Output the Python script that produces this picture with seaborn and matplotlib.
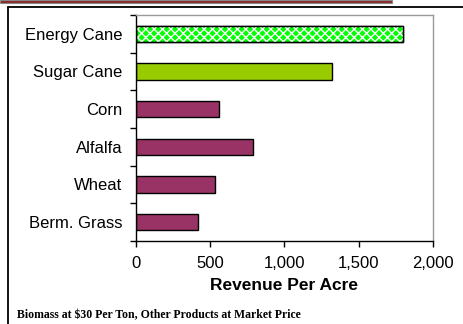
import numpy as np
import pandas as pd
import matplotlib
matplotlib.use('Agg')
import matplotlib.pyplot as plt
import seaborn as sns
from matplotlib.patches import Rectangle
from matplotlib.lines import Line2D
from matplotlib.ticker import FuncFormatter, FixedLocator

# data
crops = ['Energy Cane', 'Sugar Cane', 'Corn', 'Alfalfa', 'Wheat', 'Berm. Grass']
revenue = [1800, 1320, 560, 790, 535, 420]
bar_colors = ['#00ff00', '#99cc00', '#993366', '#993366', '#993366', '#993366']
xticks = [0, 500, 1000, 1500, 2000]

df = pd.DataFrame({'crop': crops, 'revenue': revenue})

sns.set_style('white')
plt.rcParams['font.family'] = ['Liberation Sans', 'DejaVu Sans']
plt.rcParams['text.color'] = 'black'
plt.rcParams['axes.labelcolor'] = 'black'
plt.rcParams['xtick.color'] = 'black'
plt.rcParams['ytick.color'] = 'black'
plt.rcParams['hatch.linewidth'] = 1.0

fig = plt.figure(figsize=(4.64, 3.24), dpi=100)
ax = fig.add_axes([136/464, 1 - 241/324, (433-136)/464, (241-15)/324])

sns.barplot(data=df, x='revenue', y='crop', hue='crop', palette=bar_colors,
            legend=False, width=0.43, edgecolor='black', linewidth=1.0,
            saturation=1, ax=ax)

# checker pattern on the energy cane bar
p = ax.patches[0]
ax.add_patch(Rectangle(p.get_xy(), p.get_width(), p.get_height(),
                       facecolor='none', edgecolor='white', hatch='xxxx',
                       linewidth=0, zorder=p.get_zorder() + 0.1))
ax.add_patch(Rectangle(p.get_xy(), p.get_width(), p.get_height(),
                       facecolor='none', edgecolor='black', linewidth=1.0,
                       zorder=p.get_zorder() + 0.2))

ax.set_xlim(0, 2000)
ax.set_ylim(len(crops) - 0.5, -0.5)
ax.set_xticks(xticks)
ax.xaxis.set_major_formatter(FuncFormatter(lambda v, _: f'{int(v):,}'))
ax.tick_params(axis='x', direction='out', length=4, width=1,
               labelsize=12, pad=7, bottom=True)
ax.tick_params(axis='y', which='major', length=0, labelsize=12, pad=10)
ax.yaxis.set_minor_locator(FixedLocator(np.arange(-0.5, len(crops), 1.0)))
ax.tick_params(axis='y', which='minor', direction='out', length=4, width=1,
               left=True)

for side in ['top', 'right']:
    ax.spines[side].set_color('#999999')
    ax.spines[side].set_linewidth(1)
for side in ['left', 'bottom']:
    ax.spines[side].set_color('black')
    ax.spines[side].set_linewidth(1)

ax.set_ylabel('')
ax.set_xlabel('Revenue Per Acre', fontsize=12.5, fontweight='bold', labelpad=5)

# outer frame and the strip above it
fig.add_artist(Line2D([8/464, 8/464], [0, 1 - 7/324], color='black', lw=1.3,
                      transform=fig.transFigure))
fig.add_artist(Line2D([8/464, 1], [1 - 7/324, 1 - 7/324], color='black', lw=1.3,
                      transform=fig.transFigure))
fig.add_artist(Rectangle((0, 1 - 3/324), 392/464, 3/324, facecolor='#8a2a2a',
                         edgecolor='#888888', lw=0.8, transform=fig.transFigure))

fig.text(17/464, 1 - 315/324, 'Biomass at $30 Per Ton, Other Products at Market Price',
         fontsize=8.5, fontweight='bold', family=['Liberation Serif', 'DejaVu Serif'],
         va='center', ha='left')

fig.savefig('out.png', dpi=100)
